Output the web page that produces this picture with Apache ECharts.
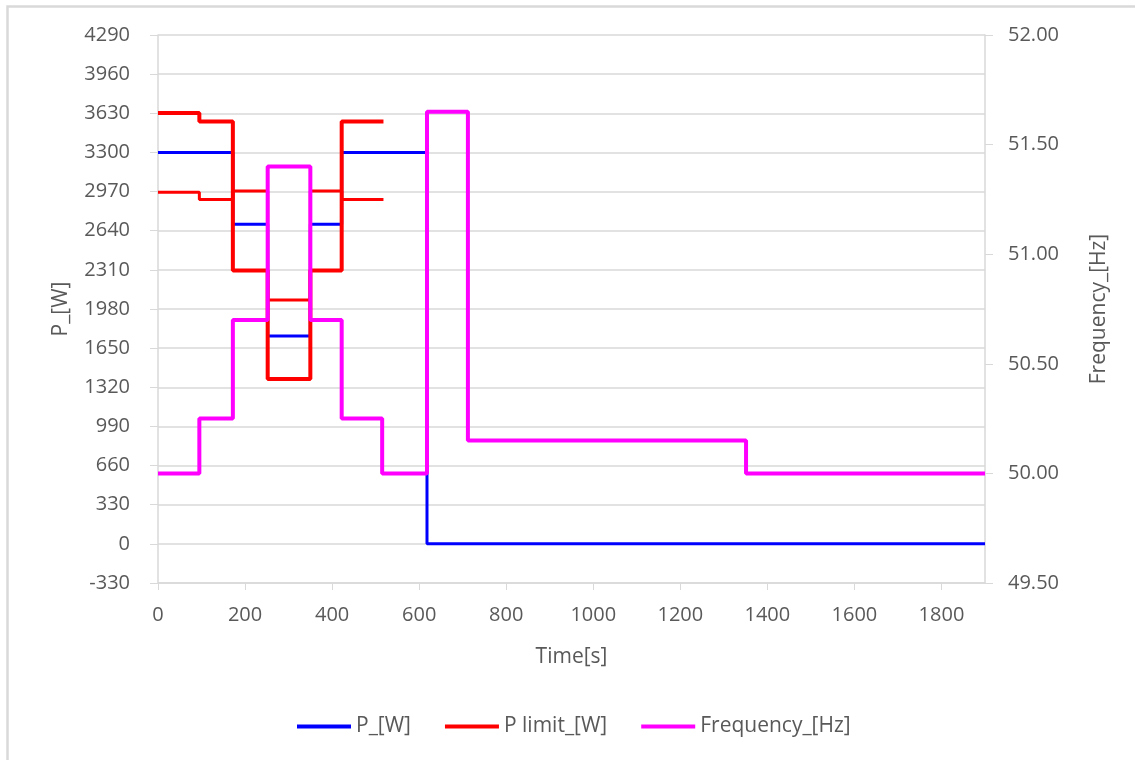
<!DOCTYPE html>
<html>
<head>
<meta charset="utf-8">
<script src="https://cdn.jsdelivr.net/npm/echarts@6/dist/echarts.min.js"></script>
<style>
  html, body { margin: 0; padding: 0; background: #fff; }
  #chart { width: 1135px; height: 760px; }
</style>
</head>
<body>
<div id="chart"></div>
<script>
// time ticks shown on the x axis
const timeTicks = [0, 200, 400, 600, 800, 1000, 1200, 1400, 1600, 1800]

// each array: [time s, value] at the moment the step begins
const pSteps = [[0, 3300], [172, 2695], [252, 1752], [350, 2695], [422, 3300], [618, 0], [1900, 0]]
const pLimitSteps = [[0, 3632], [95, 3560], [172, 2305], [252, 1390], [350, 2305], [422, 3560], [518, 3560]]
const pLimitLowSteps = [[0, 2965], [95, 2903], [172, 2975], [252, 2055], [350, 2975], [422, 2903], [518, 2903]]
const freqSteps = [[0, 50.0], [95, 50.25], [172, 50.7], [252, 51.4], [350, 50.7], [422, 50.25], [515, 50.0], [618, 51.65], [712, 50.15], [1351, 50.0], [1900, 50.0]]

const txt = '#595959'
const grey = '#d9d9d9'
const font = 'Open Sans'

const dom = document.getElementById('chart')
const chart = echarts.init(dom)

let option = {
  animation: false,
  textStyle: { fontFamily: font },
  graphic: [{
    type: 'rect',
    shape: { x: 7.5, y: 6.5, width: 1150, height: 780 },
    style: { fill: 'none', stroke: grey, lineWidth: 2.5 },
  }],
  legend: {
    left: 297,
    top: 716,
    padding: 0,
    icon: 'rect',
    itemWidth: 54,
    itemHeight: 4,
    itemGap: 34,
    textStyle: { color: txt, fontSize: 21, fontFamily: font },
    data: ['P_[W]', 'P limit_[W]', 'Frequency_[Hz]'],
  },
  grid: {
    left: 158,
    right: 150,
    top: 35,
    bottom: 177,
  },
  xAxis: {
    type: 'value',
    min: 0,
    max: 1900,
    interval: 200,
    name: 'Time[s]',
    nameLocation: 'middle',
    nameGap: 64,
    nameTextStyle: { color: txt, fontSize: 21 },
    axisLine: { show: true, onZero: false, lineStyle: { color: grey, width: 1.5 } },
    axisTick: { show: true, length: 7, lineStyle: { color: grey }, customValues: timeTicks },
    axisLabel: { color: txt, fontSize: 20, margin: 22, customValues: timeTicks, formatter: (v) => String(v) },
    splitLine: { show: false },
  },
  yAxis: [
    {
      type: 'value',
      min: -330,
      max: 4290,
      interval: 330,
      name: 'P_[W]',
      nameLocation: 'middle',
      nameGap: 86,
      nameRotate: 90,
      nameTextStyle: { color: txt, fontSize: 21 },
      axisLine: { show: true, onZero: false, lineStyle: { color: grey, width: 1.5 } },
      axisTick: { show: true, length: 8, lineStyle: { color: grey } },
      axisLabel: { color: txt, fontSize: 20, margin: 28, formatter: (v) => String(v) },
      splitLine: { show: true, lineStyle: { color: grey, width: 1.5 } },
    },
    {
      type: 'value',
      min: 49.5,
      max: 52,
      interval: 0.5,
      name: 'Frequency_[Hz]',
      nameLocation: 'middle',
      nameGap: 104,
      nameRotate: 90,
      nameTextStyle: { color: txt, fontSize: 21 },
      axisLine: { show: true, onZero: false, lineStyle: { color: grey, width: 1.5 } },
      axisTick: { show: true, length: 8, lineStyle: { color: grey } },
      axisLabel: { color: txt, fontSize: 20, margin: 23, formatter: (v) => v.toFixed(2) },
      splitLine: { show: false },
    },
  ],
  series: [
    {
      name: 'P_[W]',
      type: 'line',
      step: 'end',
      symbol: 'none',
      color: '#0000ff',
      lineStyle: { width: 3 },
      data: pSteps,
    },
    {
      name: 'P limit_[W]',
      type: 'line',
      step: 'end',
      symbol: 'none',
      color: '#ff0000',
      lineStyle: { width: 3 },
      data: pLimitLowSteps,
    },
    {
      name: 'P limit_[W]',
      type: 'line',
      step: 'end',
      symbol: 'none',
      color: '#ff0000',
      lineStyle: { width: 4 },
      data: pLimitSteps,
    },
    {
      name: 'Frequency_[Hz]',
      type: 'line',
      yAxisIndex: 1,
      step: 'end',
      symbol: 'none',
      color: '#ff00ff',
      lineStyle: { width: 4 },
      data: freqSteps,
    },
  ],
}

chart.setOption(option)

window.addEventListener('resize', () => chart.resize())
</script>
</body>
</html>
